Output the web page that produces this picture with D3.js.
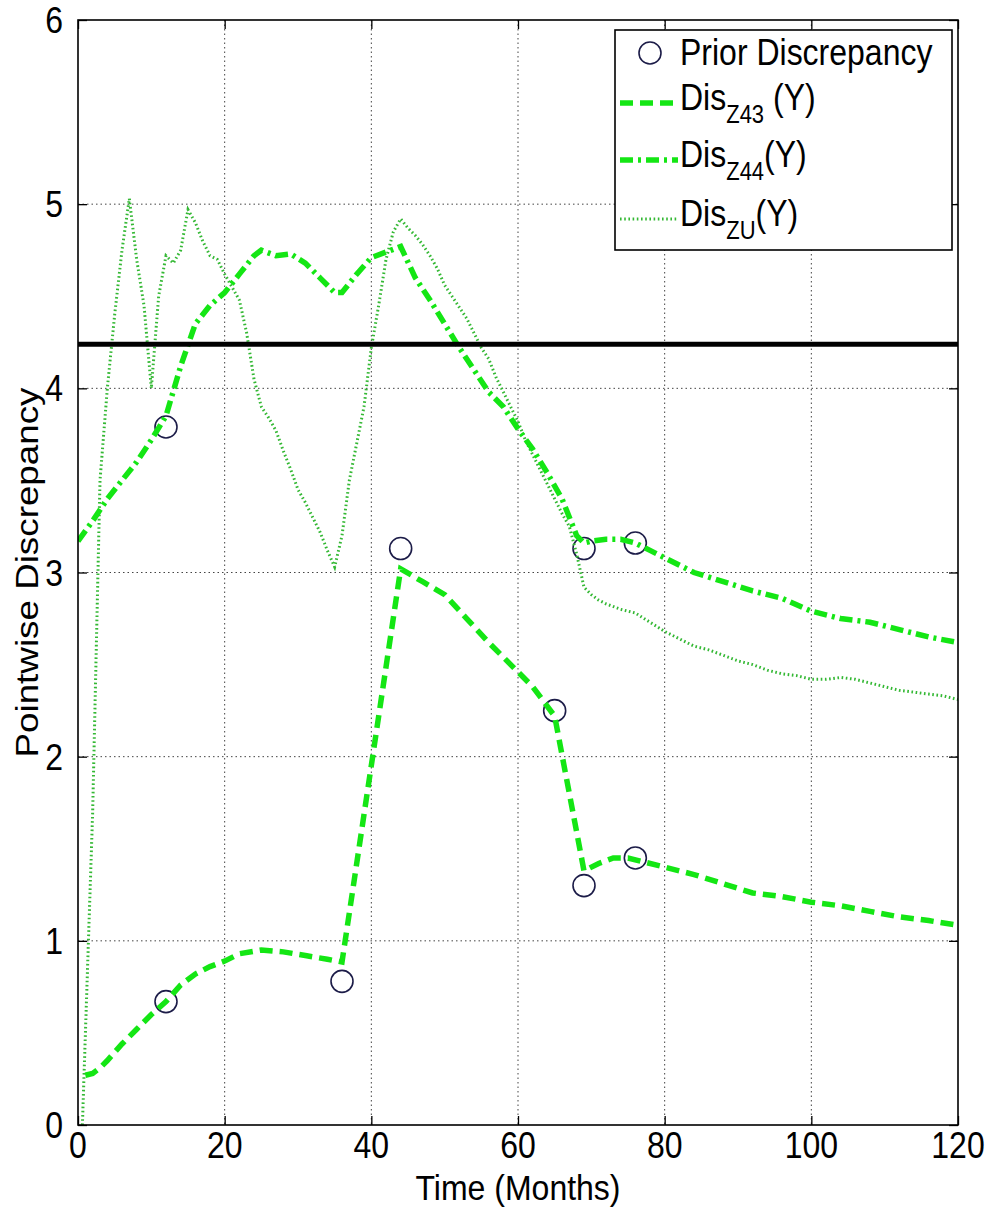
<!DOCTYPE html>
<html>
<head>
<meta charset="utf-8">
<script src="https://cdn.jsdelivr.net/npm/d3@7"></script>
<style>
  html, body { margin: 0; padding: 0; background: #fff; }
  svg { display: block; }
  text { font-family: "Liberation Sans", Arial, sans-serif; fill: #000; }
</style>
</head>
<body>
<svg id="chart" width="993" height="1207"></svg>
<script>
// ---------------- data ----------------
const xTicks = [0, 20, 40, 60, 80, 100, 120];
const yTicks = [0, 1, 2, 3, 4, 5, 6];

const threshold = 4.24;

const priorMonths = [12, 12, 36, 44, 65, 69, 69, 76, 76];
const priorValues = [0.67, 3.79, 0.78, 3.13, 2.25, 1.30, 3.13, 1.45, 3.16];

const z43Months = [1, 2, 3, 4, 6, 8, 10, 12, 14, 16, 18, 20, 22, 25, 28, 31, 34, 36,
  44, 47, 50, 53, 56, 59, 62, 65, 69, 71, 73, 75, 77, 80, 84, 88, 92, 96, 100, 104, 108, 112, 116, 120];
const z43Values = [0.27, 0.28, 0.31, 0.35, 0.44, 0.52, 0.60, 0.67, 0.76, 0.82, 0.86, 0.89, 0.93, 0.95, 0.94, 0.92, 0.90, 0.885,
  3.02, 2.95, 2.88, 2.75, 2.62, 2.50, 2.38, 2.22, 1.38, 1.42, 1.45, 1.45, 1.43, 1.40, 1.36, 1.31, 1.26, 1.24, 1.21, 1.19, 1.16, 1.13, 1.11, 1.085];

const z44Months = [0, 2, 4, 6, 8, 10, 12, 14, 16, 18, 20, 22, 24, 25, 27, 29, 31, 33, 35, 36, 38, 40, 42, 44,
  46, 48, 50, 52, 54, 56, 58, 60, 62, 64, 66, 68, 69, 70, 72, 74, 76, 78, 80, 84, 88, 92, 96, 100, 104, 108, 112, 116, 120];
const z44Values = [3.17, 3.28, 3.40, 3.50, 3.60, 3.72, 3.85, 4.12, 4.35, 4.45, 4.52, 4.62, 4.72, 4.75, 4.72, 4.73, 4.68, 4.60, 4.52, 4.52, 4.62, 4.71, 4.74, 4.77,
  4.60, 4.48, 4.35, 4.22, 4.10, 3.98, 3.90, 3.78, 3.67, 3.54, 3.40, 3.20, 3.16, 3.17, 3.18, 3.18, 3.16, 3.12, 3.08, 3.00, 2.95, 2.90, 2.86, 2.79, 2.75, 2.73, 2.69, 2.65, 2.62];

const zuMonths = [0.6, 2, 3, 4, 5, 6, 7, 8, 9, 10, 11, 12, 13, 14, 15, 16, 17, 18, 19, 20,
  21, 22, 23, 24, 25, 26, 27, 28, 29, 30, 31, 32, 33, 34, 35, 36, 37, 38, 39, 40,
  41, 42, 43, 44, 45, 46, 47, 48, 49, 50, 51, 52, 53, 54, 55, 56, 57, 58, 59, 60,
  61, 62, 63, 64, 65, 66, 67, 68, 69, 70, 71, 72, 74, 76, 78, 80, 82, 84, 86, 88,
  90, 92, 94, 96, 98, 100, 102, 104, 106, 108, 110, 112, 114, 116, 118, 120];
const zuValues = [0.00, 1.70, 3.50, 4.00, 4.40, 4.75, 5.03, 4.70, 4.45, 4.00, 4.50, 4.72, 4.68, 4.75, 4.97, 4.90, 4.80, 4.72, 4.70, 4.62,
  4.55, 4.48, 4.30, 4.05, 3.90, 3.84, 3.77, 3.66, 3.56, 3.45, 3.38, 3.30, 3.22, 3.12, 3.03, 3.20, 3.50, 3.70, 3.90, 4.22,
  4.45, 4.70, 4.85, 4.92, 4.87, 4.83, 4.78, 4.72, 4.65, 4.56, 4.50, 4.44, 4.38, 4.30, 4.22, 4.16, 4.06, 3.98, 3.90, 3.82,
  3.72, 3.64, 3.56, 3.48, 3.40, 3.32, 3.25, 3.10, 2.92, 2.88, 2.85, 2.83, 2.80, 2.78, 2.73, 2.68, 2.64, 2.60, 2.58, 2.55,
  2.52, 2.50, 2.47, 2.45, 2.44, 2.42, 2.42, 2.43, 2.42, 2.40, 2.38, 2.36, 2.35, 2.34, 2.33, 2.31];

const legendLabels = [
  { main: "Prior Discrepancy", sub: "", tail: "" },
  { main: "Dis", sub: "Z43", tail: " (Y)" },
  { main: "Dis", sub: "Z44", tail: "(Y)" },
  { main: "Dis", sub: "ZU", tail: "(Y)" }
];

// ---------------- layout ----------------
const L = 78, R = 958, T = 20, B = 1125;
const green = "#14e614";
const dotGreen = "#34b834";
const stretch = 1.15;

const svg = d3.select("#chart");
const x = d3.scaleLinear().domain([0, 120]).range([L, R]);
const y = d3.scaleLinear().domain([0, 6]).range([B, T]);

svg.append("defs").append("clipPath").attr("id", "clip")
  .append("rect").attr("x", L).attr("y", T).attr("width", R - L).attr("height", B - T);

// grid
const grid = svg.append("g");
grid.selectAll(".gx").data(xTicks.filter(t => t > 0 && t < 120)).enter().append("line")
  .attr("x1", d => x(d)).attr("x2", d => x(d)).attr("y1", T).attr("y2", B)
  .attr("stroke", "#444").attr("stroke-width", 1).attr("stroke-dasharray", "1.5,3");
grid.selectAll(".gy").data(yTicks.filter(t => t > 0 && t < 6)).enter().append("line")
  .attr("y1", d => y(d)).attr("y2", d => y(d)).attr("x1", L).attr("x2", R)
  .attr("stroke", "#444").attr("stroke-width", 1).attr("stroke-dasharray", "1.5,3");

// axes with inward ticks
const tickLen = 9;
svg.append("g").attr("transform", `translate(0,${B})`)
  .call(d3.axisBottom(x).tickValues(xTicks).tickSize(-tickLen).tickFormat(""))
  .call(g => g.select(".domain").remove());
svg.append("g").attr("transform", `translate(0,${T})`)
  .call(d3.axisTop(x).tickValues(xTicks).tickSize(-tickLen).tickFormat(""))
  .call(g => g.select(".domain").remove());
svg.append("g").attr("transform", `translate(${L},0)`)
  .call(d3.axisLeft(y).tickValues(yTicks).tickSize(-tickLen).tickFormat(""))
  .call(g => g.select(".domain").remove());
svg.append("g").attr("transform", `translate(${R},0)`)
  .call(d3.axisRight(y).tickValues(yTicks).tickSize(-tickLen).tickFormat(""))
  .call(g => g.select(".domain").remove());
svg.selectAll(".tick line").attr("stroke", "#000").attr("stroke-width", 1.3);

// tick labels
svg.append("g").selectAll("text").data(xTicks).enter().append("text")
  .attr("transform", d => `translate(${x(d)},${B + 33}) scale(1,${stretch})`)
  .attr("text-anchor", "middle").attr("font-size", 32).text(d => d);
svg.append("g").selectAll("text").data(yTicks).enter().append("text")
  .attr("transform", d => `translate(${L - 15},${y(d) + 13}) scale(1,${stretch})`)
  .attr("text-anchor", "end").attr("font-size", 32).text(d => d);

// axis titles
svg.append("text")
  .attr("transform", `translate(${(L + R) / 2},${B + 75}) scale(1,1.08)`)
  .attr("text-anchor", "middle").attr("font-size", 32).text("Time (Months)");
svg.append("text")
  .attr("transform", `translate(38,${(T + B) / 2}) rotate(-90) scale(${stretch},1)`)
  .attr("text-anchor", "middle").attr("font-size", 32).text("Pointwise Discrepancy");

// data
const plot = svg.append("g").attr("clip-path", "url(#clip)");

plot.selectAll("circle.prior").data(priorMonths.map((m, i) => [m, priorValues[i]])).enter()
  .append("circle").attr("class", "prior")
  .attr("cx", d => x(d[0])).attr("cy", d => y(d[1])).attr("r", 11)
  .attr("fill", "none").attr("stroke", "#1c1c48").attr("stroke-width", 1.6);

const line = d3.line().x(d => x(d[0])).y(d => y(d[1]));
const zip = (ms, vs) => ms.map((m, i) => [m, vs[i]]);

plot.append("path").datum(zip(zuMonths, zuValues)).attr("d", line)
  .attr("fill", "none").attr("stroke", dotGreen).attr("stroke-width", 3)
  .attr("stroke-dasharray", "1.6,2.6");
plot.append("path").datum(zip(z43Months, z43Values)).attr("d", line)
  .attr("fill", "none").attr("stroke", green).attr("stroke-width", 5.5)
  .attr("stroke-dasharray", "13,7");
plot.append("path").datum(zip(z44Months, z44Values)).attr("d", line)
  .attr("fill", "none").attr("stroke", green).attr("stroke-width", 5.5)
  .attr("stroke-dasharray", "13,5,3,5");

// threshold line
plot.append("line").attr("x1", L).attr("x2", R).attr("y1", y(threshold)).attr("y2", y(threshold))
  .attr("stroke", "#000").attr("stroke-width", 5);

// box
svg.append("rect").attr("x", L).attr("y", T).attr("width", R - L).attr("height", B - T)
  .attr("fill", "none").attr("stroke", "#000").attr("stroke-width", 1.6);

// legend
const lg = svg.append("g");
const LX = 615, LY = 30, LW = 337, LH = 220;
lg.append("rect").attr("x", LX).attr("y", LY).attr("width", LW).attr("height", LH)
  .attr("fill", "#fff").attr("stroke", "#000").attr("stroke-width", 1.6);
const rowY = [53, 103, 160, 219];
const sx1 = 620, sx2 = 678, tx = 680;
lg.append("circle").attr("cx", (sx1 + sx2) / 2 + 1).attr("cy", rowY[0]).attr("r", 11)
  .attr("fill", "none").attr("stroke", "#1c1c48").attr("stroke-width", 1.6);
lg.append("line").attr("x1", sx1).attr("x2", sx2).attr("y1", rowY[1]).attr("y2", rowY[1])
  .attr("stroke", green).attr("stroke-width", 5.5).attr("stroke-dasharray", "13,7");
lg.append("line").attr("x1", sx1).attr("x2", sx2).attr("y1", rowY[2]).attr("y2", rowY[2])
  .attr("stroke", green).attr("stroke-width", 5.5).attr("stroke-dasharray", "13,5,3,5");
lg.append("line").attr("x1", sx1).attr("x2", sx2).attr("y1", rowY[3]).attr("y2", rowY[3])
  .attr("stroke", dotGreen).attr("stroke-width", 3).attr("stroke-dasharray", "1.6,2.6");

legendLabels.forEach((lab, i) => {
  const base = i === 0 ? rowY[0] + 12 : rowY[i] + 7;
  const t = lg.append("text").attr("transform", `translate(${tx},${base}) scale(1,${stretch})`)
    .attr("font-size", 32);
  t.append("tspan").text(lab.main);
  if (lab.sub) {
    t.append("tspan").attr("font-size", 22).attr("dy", 11).text(lab.sub);
    t.append("tspan").attr("dy", -11).text(lab.tail);
  }
});
</script>
</body>
</html>
